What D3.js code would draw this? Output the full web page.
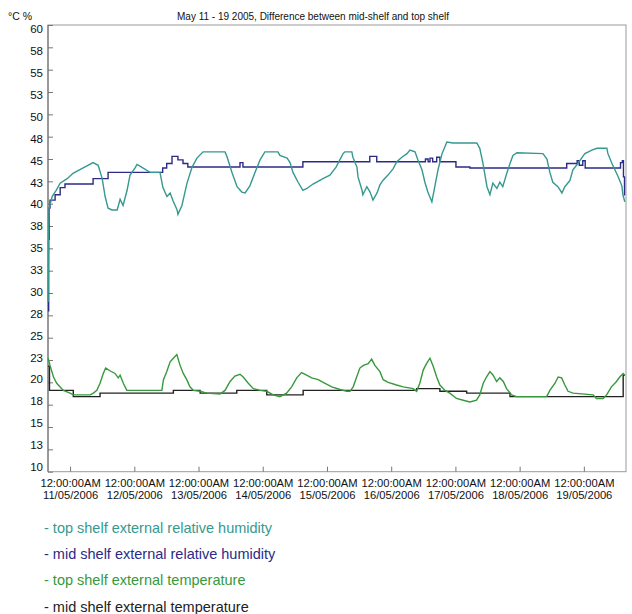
<!DOCTYPE html>
<html>
<head>
<meta charset="utf-8">
<script src="https://cdn.jsdelivr.net/npm/d3@7"></script>
<style>
body { margin: 0; background: #fff; }
text { font-family: Arial, "Liberation Sans", sans-serif; }
</style>
</head>
<body>
<svg width="632" height="614"></svg>
<script>
// hours after 11/05/2006 00:00, value
var topShelfRH = [
	[-8.2, 29], [-8.0, 37], [-7.8, 39.5], [-6.7, 40.8], [-5.2, 41.5], [-3.7, 42.3], [-1.1, 42.8],
	[1.1, 43.4], [4.9, 44.0], [8.6, 44.6], [10.5, 44.3], [12.0, 42.8], [13.1, 40.8], [14.2, 39.5],
	[15.7, 39.3], [17.6, 39.3], [18.7, 40.5], [19.8, 39.8], [21.3, 41.5], [22.4, 43.2], [24.3, 44.0],
	[25.0, 44.4], [26.1, 44.2], [29.9, 43.5], [33.6, 43.5], [34.7, 41.8], [36.2, 40.8], [37.4, 41.2],
	[38.5, 40.3], [40.0, 39.3], [40.3, 38.8], [41.8, 39.8], [43.7, 42.3], [45.6, 44.1], [47.4, 45.1],
	[49.7, 45.8], [57.9, 45.8], [58.6, 45.3], [60.5, 43.5], [62.4, 41.9], [64.2, 41.3], [65.4, 41.2],
	[67.2, 42.0], [69.1, 43.5], [71.0, 44.9], [72.8, 45.8], [77.7, 45.8], [78.4, 45.4], [81.1, 45.1],
	[82.2, 44.6], [83.3, 43.5], [85.2, 42.4], [87.0, 41.5], [88.5, 41.7], [90.8, 42.2], [94.5, 42.8],
	[97.1, 43.2], [99.4, 44.1], [102.0, 45.6], [102.7, 45.8], [105.3, 45.8], [105.7, 45.2], [107.2, 44.1],
	[107.6, 43.0], [109.1, 41.5], [109.4, 41.0], [110.9, 41.9], [112.1, 41.3], [113.2, 40.4], [114.7, 41.2],
	[115.8, 42.1], [116.9, 42.6], [118.8, 43.2], [120.7, 43.9], [122.1, 44.7], [124.0, 45.2], [125.9, 45.6],
	[127.0, 46.0], [128.9, 45.8], [130.0, 44.9], [131.5, 43.8], [132.6, 42.4], [133.7, 41.3], [135.2, 40.2],
	[136.3, 41.9], [137.5, 43.8], [139.0, 45.6], [140.8, 46.9], [143.1, 46.8], [152.0, 46.8], [153.1, 46.2],
	[154.3, 44.5], [155.8, 41.9], [156.9, 41.0], [158.0, 42.3], [159.5, 41.7], [160.6, 42.4], [161.7, 41.9],
	[163.2, 43.4], [164.4, 44.5], [165.5, 45.4], [167.0, 45.7], [176.7, 45.6], [178.2, 45.0], [179.3, 43.5],
	[180.4, 42.4], [182.3, 41.9], [183.8, 41.2], [184.9, 41.9], [186.8, 42.6], [187.9, 43.8], [189.8, 44.5],
	[191.6, 45.3], [192.4, 45.6], [195.0, 46.0], [196.9, 46.2], [200.6, 46.2], [201.0, 45.6], [202.5, 44.5],
	[203.6, 43.8], [204.7, 43.1], [206.2, 42.0], [206.6, 41.0], [207.3, 40.2]
];

// step series: value holds until next point
var midShelfRH = [
	[-8.2, 28], [-8.0, 36], [-7.8, 39.5], [-7.5, 40.4], [-5.6, 41.0], [-3.7, 41.8], [-1.9, 42.2],
	[8.6, 42.8], [14.2, 43.5], [34.6, 44.0], [36.1, 44.5], [38.1, 45.3], [40.3, 44.9], [42.2, 44.5],
	[44.0, 44.1], [63.5, 44.6], [64.6, 44.1], [87.0, 44.7], [112.0, 45.3], [114.6, 44.7], [132.8, 45.0],
	[133.8, 44.7], [134.5, 45.1], [135.5, 44.7], [137.0, 45.2], [138.2, 44.7], [144.2, 44.1], [149.4, 44.0],
	[185.6, 44.5], [189.5, 44.8], [190.3, 44.3], [191.6, 44.8], [192.5, 44.0], [205.7, 44.6], [206.4, 44.8],
	[206.8, 43.0], [207.2, 41.0], [207.4, 41.0]
];

var topShelfTemp = [
	[-8.2, 22.7], [-7.5, 21.9], [-6.2, 20.6], [-5.0, 19.9], [-2.5, 19.1], [0, 18.8], [1.2, 18.6],
	[7.5, 18.6], [8.7, 18.8], [10.0, 19.1], [11.2, 19.9], [12.4, 21.0], [13.3, 21.6], [14.9, 21.3],
	[16.8, 21.0], [18.0, 20.5], [18.7, 20.8], [19.9, 19.9], [21.2, 19.1], [34.3, 19.1], [34.9, 20.3],
	[36.1, 21.2], [37.4, 22.3], [38.0, 22.5], [39.2, 22.9], [39.9, 23.1], [41.1, 21.9], [42.3, 21.0],
	[43.6, 20.3], [44.8, 19.5], [46.1, 19.1], [48.6, 19.0], [51.1, 18.8], [56.0, 18.7], [57.9, 19.1],
	[59.8, 20.1], [61.6, 20.7], [63.5, 20.9], [64.7, 20.6], [66.6, 19.9], [68.5, 19.3], [71.0, 19.1],
	[73.5, 19.0], [75.9, 18.6], [78.4, 18.4], [80.9, 18.8], [82.8, 19.5], [84.7, 20.5], [86.5, 21.1],
	[88.4, 20.8], [90.3, 20.5], [92.7, 20.3], [95.3, 19.9], [97.8, 19.5], [100.9, 19.2], [103.4, 19.0],
	[104.6, 19.0], [105.8, 19.5], [107.1, 20.6], [108.3, 21.6], [109.6, 21.9], [111.4, 22.1], [112.7, 22.6],
	[113.9, 21.9], [115.8, 21.2], [117.0, 20.3], [118.9, 20.0], [122.0, 19.7], [124.5, 19.5], [128.2, 19.3],
	[129.5, 19.0], [130.7, 19.9], [132.0, 21.4], [133.2, 22.1], [134.5, 22.7], [135.7, 21.8], [137.0, 20.6],
	[138.2, 19.7], [140.1, 19.1], [141.9, 18.8], [144.4, 18.2], [146.9, 18.0], [149.4, 17.8], [151.9, 18.0],
	[153.1, 18.6], [154.4, 19.9], [155.6, 20.6], [156.9, 21.2], [158.1, 20.8], [159.4, 20.1], [160.6, 20.5],
	[161.9, 20.1], [163.1, 19.3], [165.0, 18.6], [166.8, 18.4], [178.1, 18.4], [179.3, 19.1], [181.2, 19.9],
	[182.4, 20.6], [183.7, 20.5], [184.9, 19.7], [186.1, 19.0], [188.0, 18.8], [195.5, 18.6], [196.7, 18.2],
	[199.2, 18.2], [200.5, 18.6], [202.3, 19.5], [204.2, 20.1], [205.4, 20.6], [206.7, 21.0], [207.3, 20.8]
];

var midShelfTemp = [
	[-8.2, 21.8], [-7.7, 19.1], [1.2, 18.4], [11.2, 18.8], [38.6, 19.1], [48.6, 18.8], [62.3, 19.1],
	[73.5, 18.6], [87.1, 19.1], [129.5, 19.3], [138.2, 19.0], [148.2, 18.8], [164.4, 18.4], [206.7, 20.8],
	[207.3, 20.8]
];

var seriesNames = [
	"- top shelf external relative humidity",
	"- mid shelf external relative humidity",
	"- top shelf external temperature",
	"- mid shelf external temperature"
];

var dayTicks = ["11/05/2006", "12/05/2006", "13/05/2006", "14/05/2006", "15/05/2006",
	"16/05/2006", "17/05/2006", "18/05/2006", "19/05/2006"];
var yTicks = d3.range(10, 60.1, 2.5);
var chartTitle = "May 11 - 19 2005, Difference between mid-shelf and top shelf";
var yUnit = "°C %";

var colors = ["#35998f", "#2c2a88", "#36993c", "#222222"];

var base = new Date(2006, 4, 11, 0, 0, 0);
function toDate(h) { return new Date(base.getTime() + h * 3600000); }
var parseDay = d3.timeParse("%d/%m/%Y");

var svg = d3.select("svg"),
	margin = { top: 25, left: 48 },
	width = 578,
	height = 446.7;

var x = d3.scaleTime()
	.domain([toDate(-8.25), toDate(207.75)])
	.range([0, width]);
var y = d3.scaleLinear().domain([10, 60]).range([height, 0]);
// the labels sit slightly inside the ticks in the original
var yLab = d3.scaleLinear().domain([10, 60]).range([height - 5, 4.3]);

svg.append("text")
	.attr("x", 313).attr("y", 20)
	.attr("text-anchor", "middle")
	.attr("font-size", 10)
	.attr("fill", "#111")
	.text(chartTitle);

svg.append("text")
	.attr("x", 8).attr("y", 20)
	.attr("font-size", 10.5)
	.attr("fill", "#111")
	.text(yUnit);

var g = svg.append("g")
	.attr("transform", "translate(" + margin.left + "," + margin.top + ")");

g.append("rect")
	.attr("width", width).attr("height", height)
	.attr("fill", "none").attr("stroke", "#9a9a9a");

// y tick marks (inward)
var yt = g.append("g")
	.call(d3.axisRight(y).tickValues(yTicks).tickSize(5).tickFormat(""));
yt.select(".domain").remove();
yt.selectAll("line").attr("stroke", "#777");

// y labels
var yl = g.append("g")
	.call(d3.axisLeft(yLab).tickValues(yTicks).tickSize(0).tickPadding(5)
		.tickFormat(function(d) { return Math.round(d); }));
yl.select(".domain").remove();
yl.selectAll("text").attr("font-size", 11.5).attr("fill", "#111")
	.attr("font-family", "Arial, 'Liberation Sans', sans-serif");

// x axis
var fmtTime = d3.timeFormat("%I:%M:%S%p"),
	fmtDate = d3.timeFormat("%d/%m/%Y");
var xa = g.append("g")
	.attr("transform", "translate(0," + height + ")")
	.call(d3.axisBottom(x).tickValues(dayTicks.map(parseDay)).tickSizeInner(-5).tickSizeOuter(0));
xa.select(".domain").remove();
xa.selectAll("line").attr("stroke", "#777");
xa.selectAll(".tick text").each(function(d) {
	var t = d3.select(this).text(null).attr("dy", null).attr("y", null)
		.attr("font-size", 11.2).attr("fill", "#111")
		.attr("font-family", "Arial, 'Liberation Sans', sans-serif");
	t.append("tspan").attr("x", 0).attr("y", 15.5).text(fmtTime(d));
	t.append("tspan").attr("x", 0).attr("y", 27).text(fmtDate(d));
});

// left axis line a bit darker
g.append("line")
	.attr("x1", 0).attr("x2", 0).attr("y1", 0).attr("y2", height)
	.attr("stroke", "#666");

var linear = d3.line()
	.x(function(d) { return x(toDate(d[0])); })
	.y(function(d) { return y(d[1]); });
var stepped = d3.line()
	.curve(d3.curveStepAfter)
	.x(function(d) { return x(toDate(d[0])); })
	.y(function(d) { return y(d[1]); });

var series = [
	{ data: midShelfTemp, line: stepped, color: colors[3] },
	{ data: topShelfTemp, line: linear, color: colors[2] },
	{ data: midShelfRH, line: stepped, color: colors[1] },
	{ data: topShelfRH, line: linear, color: colors[0] }
];

g.selectAll(".series")
	.data(series)
	.enter().append("path")
	.attr("class", "series")
	.attr("fill", "none")
	.attr("stroke", function(d) { return d.color; })
	.attr("stroke-width", 1.4)
	.attr("d", function(d) { return d.line(d.data); });

// legend
svg.selectAll(".legend")
	.data(seriesNames)
	.enter().append("text")
	.attr("class", "legend")
	.attr("x", 44)
	.attr("y", function(d, i) { return 533 + i * 26.2; })
	.attr("font-size", 14.5)
	.attr("fill", function(d, i) { return colors[i]; })
	.text(function(d) { return d; });
</script>
</body>
</html>
